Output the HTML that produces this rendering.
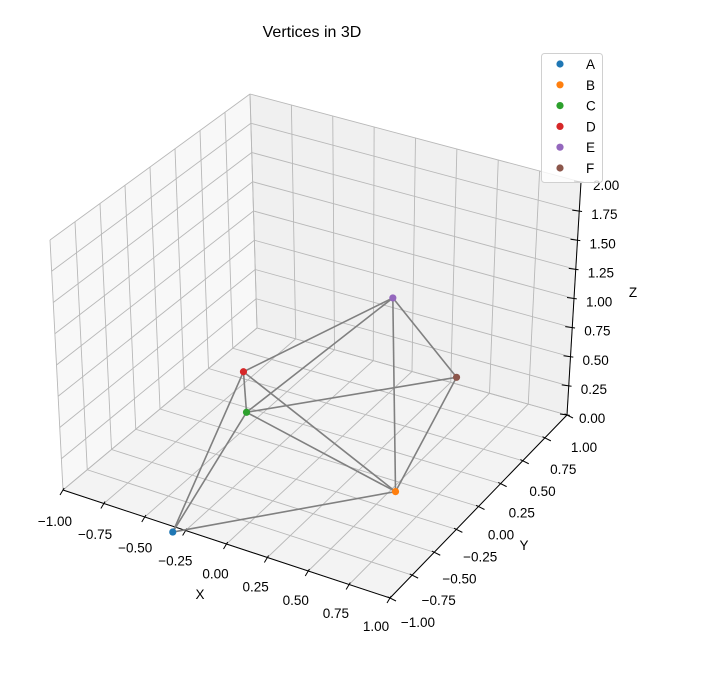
<!DOCTYPE html>
<html><head><meta charset="utf-8"><style>
body{margin:0;background:#fff;}
svg{display:block;font-family:"Liberation Sans","DejaVu Sans",sans-serif;}
</style></head><body>
<svg id="chart" width="702" height="678" viewBox="0 0 702 678" xmlns="http://www.w3.org/2000/svg">
<rect width="702" height="678" fill="#fff"/>
<text x="312" y="37" font-size="16" text-anchor="middle" fill="#000">Vertices in 3D</text>
<g id="panes"></g><g id="grid"></g><g id="axes"></g><g id="edges"></g><g id="points"></g>
<g id="legend"></g>
</svg>
<script>
const names = ["A","B","C","D","E","F"];
const xs = [-0.30, 0.53, -0.25, -0.48, 0.14, 0.55];
const ys = [-1.05, -0.09, -0.34, 0.02, 0.54, 0.53];
const zs = [0.0, 0.0, 0.5, 0.5, 1.0, 0.5];
const colors = ["#1f77b4","#ff7f0e","#2ca02c","#d62728","#9467bd","#8c564b"];
const edgeFrom = [0,0,0,1,1,1,1,2,2,2,3,4];
const edgeTo   = [1,2,3,2,3,4,5,3,4,5,4,5];
const xTicks = [-1,-0.75,-0.5,-0.25,0,0.25,0.5,0.75,1];
const yTicks = [-1,-0.75,-0.5,-0.25,0,0.25,0.5,0.75,1];
const zTicks = [0,0.25,0.5,0.75,1,1.25,1.5,1.75,2];

const NS="http://www.w3.org/2000/svg";
const C={ "000":[63,490],"100":[390,598],"010":[257,328],"110":[567,415],
          "001":[50,240],"101":[394,332],"011":[250,94],"111":[581,182]};
function bil(a,b,c,d,u,v){return [a[0]*(1-u)*(1-v)+b[0]*u*(1-v)+c[0]*(1-u)*v+d[0]*u*v,
                                  a[1]*(1-u)*(1-v)+b[1]*u*(1-v)+c[1]*(1-u)*v+d[1]*u*v];}
function proj(x,y,z){const u=(x+1)/2,v=(y+1)/2,w=z/2;
  const p0=bil(C["000"],C["100"],C["010"],C["110"],u,v);
  const p1=bil(C["001"],C["101"],C["011"],C["111"],u,v);
  return [p0[0]*(1-w)+p1[0]*w,p0[1]*(1-w)+p1[1]*w];}
function mk(tag,attrs,parent){const e=document.createElementNS(NS,tag);for(const k in attrs)e.setAttribute(k,attrs[k]);parent.appendChild(e);return e;}
function poly(pts){return pts.map(p=>p[0].toFixed(1)+","+p[1].toFixed(1)).join(" ");}

const panes=document.getElementById("panes");
let e;
e=mk("polygon",{points:poly([proj(-1,-1,0),proj(1,-1,0),proj(1,1,0),proj(-1,1,0)]),fill:"#f3f3f3"},panes);


e=mk("polygon",{points:poly([proj(-1,-1,0),proj(-1,1,0),proj(-1,1,2),proj(-1,-1,2)]),fill:"#f8f8f8"},panes);


e=mk("polygon",{points:poly([proj(-1,1,0),proj(1,1,0),proj(1,1,2),proj(-1,1,2)]),fill:"#f0f0f0"},panes);



const grid=document.getElementById("grid");
function gl(a,b){const l=mk("line",{x1:a[0],y1:a[1],x2:b[0],y2:b[1],stroke:"#b8b8b8","stroke-width":0.9},grid);
  
  }
xTicks.forEach(t=>{gl(proj(t,-1,0),proj(t,1,0));gl(proj(t,1,0),proj(t,1,2));});
yTicks.forEach(t=>{gl(proj(-1,t,0),proj(1,t,0));gl(proj(-1,t,0),proj(-1,t,2));});
zTicks.forEach(t=>{gl(proj(-1,-1,t),proj(-1,1,t));gl(proj(-1,1,t),proj(1,1,t));});

const axes=document.getElementById("axes");
function axLine(a,b,name){const l=mk("line",{x1:a[0],y1:a[1],x2:b[0],y2:b[1],stroke:"#000","stroke-width":1},axes);
  
  }
axLine(proj(-1,-1,0),proj(1,-1,0),'x-axis-line');
axLine(proj(1,-1,0),proj(1,1,0),'y-axis-line');
axLine(proj(1,1,0),proj(1,1,2),'z-axis-line');
function fmt(t){return (t<0?"\u2212":"")+Math.abs(t).toFixed(2);}
function tick(p,dx,dy,lx,ly,label,anchor,name){
  const l=mk("line",{x1:p[0]-dx*0.4,y1:p[1]-dy*0.4,x2:p[0]+dx,y2:p[1]+dy,stroke:"#000","stroke-width":1},axes);
  
  
  const t=mk("text",{x:p[0]+lx,y:p[1]+ly,"font-size":13.5,"text-anchor":anchor,fill:"#000"},axes);
  t.textContent=label;
  
  }
xTicks.forEach((t,i)=>{const p=proj(t,-1,0);const f=i/(xTicks.length-1);
  tick(p,-3,5,-8-6*f,36-3*f,fmt(t),"middle","x");});
yTicks.forEach((t,i)=>{const p=proj(1,t,0);const f=i/(yTicks.length-1);
  tick(p,6,3,28-11*f,29+8*f,fmt(t),"middle","y");});
zTicks.forEach((t,i)=>{const p=proj(1,1,t);
  tick(p,-7,-1,12,8,fmt(t),"start","z");});
let lab=mk("text",{x:200,y:599,"font-size":13.5,"text-anchor":"middle"},axes);lab.textContent="X";


lab=mk("text",{x:524,y:550,"font-size":13.5,"text-anchor":"middle"},axes);lab.textContent="Y";


lab=mk("text",{x:633,y:297,"font-size":13.5,"text-anchor":"middle"},axes);lab.textContent="Z";



const edges=document.getElementById("edges");
edgeFrom.forEach((a,i)=>{const b=edgeTo[i];const p=proj(xs[a],ys[a],zs[a]),q=proj(xs[b],ys[b],zs[b]);
  const l=mk("line",{x1:p[0],y1:p[1],x2:q[0],y2:q[1],stroke:"#808080","stroke-width":1.6},edges);
  
  });
const pts=document.getElementById("points");
names.forEach((n,i)=>{const p=proj(xs[i],ys[i],zs[i]);
  const c=mk("circle",{cx:p[0],cy:p[1],r:3.6,fill:colors[i]},pts);
  
  });

const leg=document.getElementById("legend");
const lb=mk("rect",{x:541.5,y:53.5,width:61,height:129,rx:3,fill:"#fff","fill-opacity":0.8,stroke:"#d0d0d0"},leg);


names.forEach((n,i)=>{const y=64+i*20.8;
  const c=mk("circle",{cx:560,cy:y,r:3.6,fill:colors[i]},leg);
  
  
  const t=mk("text",{x:586,y:y+5,"font-size":13.5},leg);t.textContent=n;
  
  });
</script>
</body></html>
